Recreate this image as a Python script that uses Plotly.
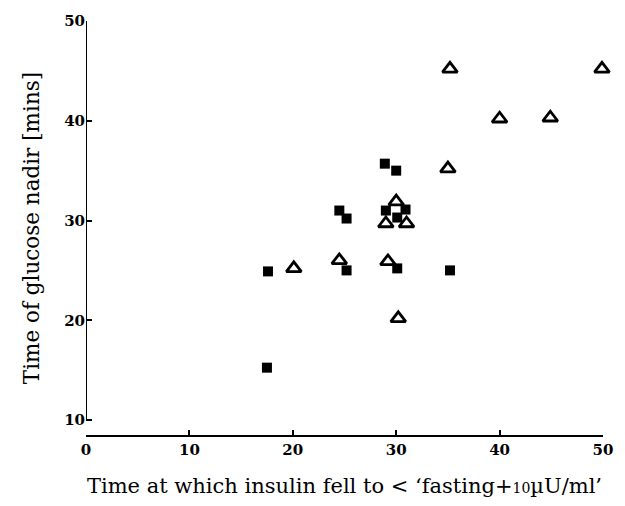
import plotly.graph_objects as go

# Open triangles
tri_x = [35.2, 49.9, 40.0, 44.9, 35.0, 30.0, 29.0, 31.0, 20.1, 24.5, 29.2, 30.2]
tri_y = [45.2, 45.2, 40.2, 40.3, 35.2, 31.9, 29.7, 29.7, 25.2, 26.0, 25.9, 20.2]

# Filled squares
sq_x = [28.9, 30.0, 24.5, 25.2, 29.0, 30.1, 30.9, 17.6, 25.2, 30.1, 35.2, 17.5]
sq_y = [35.7, 35.0, 31.0, 30.2, 31.0, 30.3, 31.1, 24.9, 25.0, 25.2, 25.0, 15.25]

x_ticks = [0, 10, 20, 30, 40, 50]
y_ticks = [10, 20, 30, 40, 50]

FONT = "DejaVu Serif"

fig = go.Figure()
fig.add_trace(go.Scatter(
    x=sq_x, y=sq_y, mode="markers", cliponaxis=False,
    marker=dict(symbol="square", size=10, color="black",
                line=dict(width=0)),
    showlegend=False))
fig.add_trace(go.Scatter(
    x=tri_x, y=tri_y, mode="markers", cliponaxis=False,
    marker=dict(symbol="triangle-up-open", size=13, color="black",
                line=dict(width=2.8, color="black")),
    showlegend=False))

# y-axis line stops at 10, x-axis line sits below
fig.add_shape(type="line", xref="x", yref="y", x0=0, x1=0, y0=10, y1=50,
              line=dict(color="black", width=2))

fig.update_layout(
    width=625, height=506,
    margin=dict(l=86, r=22, t=15, b=69),
    plot_bgcolor="white", paper_bgcolor="white",
    xaxis=dict(range=[0, 50], tickvals=x_ticks, ticktext=[str(v) for v in x_ticks],
               ticks="inside", ticklen=5, tickwidth=2, tickcolor="black",
               showline=True, linecolor="black", linewidth=2,
               showgrid=False, zeroline=False,
               tickfont=dict(family=FONT, size=15, color="black", weight="bold"),
               title=dict(text="Time at which insulin fell to < ‘fasting+<span style='font-size:14px'>10</span>µU/ml’",
                          font=dict(family=FONT, size=21, color="black"), standoff=20)),
    yaxis=dict(range=[8.5, 50], tickvals=y_ticks, ticktext=[str(v) for v in y_ticks],
               ticks="inside", ticklen=6, tickwidth=2, tickcolor="black",
               showline=False, showgrid=False, zeroline=False,
               tickfont=dict(family=FONT, size=15, color="black", weight="bold"),
               title=dict(text="Time of glucose nadir [mins]",
                          font=dict(family=FONT, size=21.5, color="black"), standoff=18)),
)

fig.write_html("out.html")
